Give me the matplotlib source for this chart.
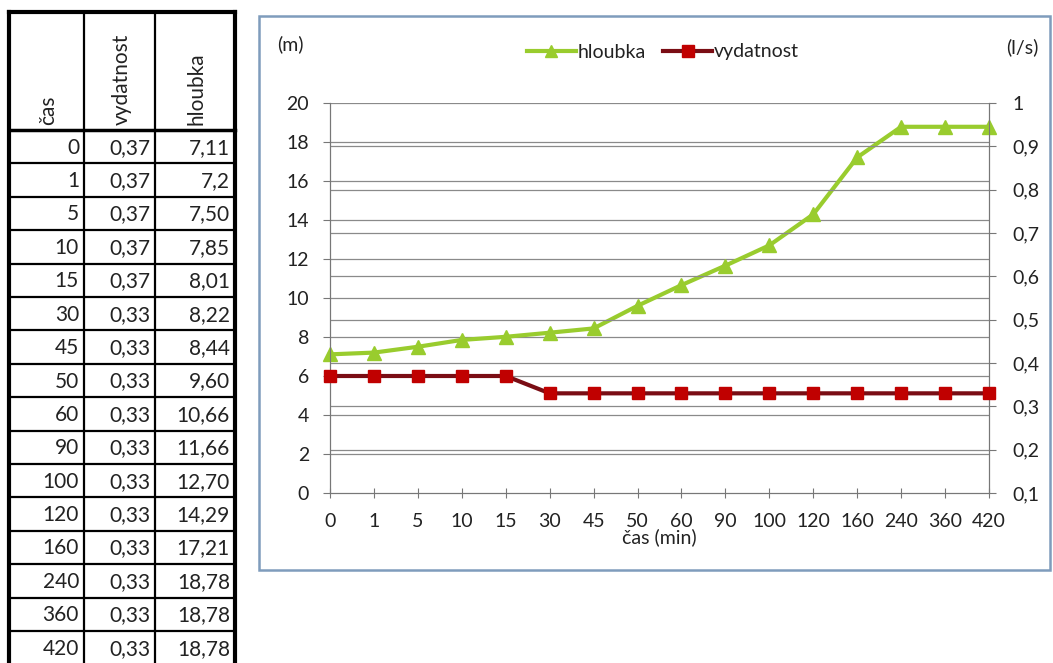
import numpy as np
import matplotlib
matplotlib.use("Agg")
import matplotlib.pyplot as plt
from matplotlib.patches import Rectangle
from matplotlib.lines import Line2D

plt.rcParams['font.family'] = ['Lato', 'DejaVu Sans']

# data (table as printed + chart)
cas = ["0", "1", "5", "10", "15", "30", "45", "50", "60", "90",
       "100", "120", "160", "240", "360", "420"]
vydatnost_txt = ["0,37", "0,37", "0,37", "0,37", "0,37", "0,33", "0,33", "0,33",
                 "0,33", "0,33", "0,33", "0,33", "0,33", "0,33", "0,33", "0,33"]
hloubka_txt = ["7,11", "7,2", "7,50", "7,85", "8,01", "8,22", "8,44", "9,60",
               "10,66", "11,66", "12,70", "14,29", "17,21", "18,78", "18,78", "18,78"]
vydatnost = [float(s.replace(",", ".")) for s in vydatnost_txt]
hloubka = [float(s.replace(",", ".")) for s in hloubka_txt]
left_ticks = list(range(0, 21, 2))
right_ticks = [0.1, 0.2, 0.3, 0.4, 0.5, 0.6, 0.7, 0.8, 0.9, 1.0]

W, H = 1053, 663
fig = plt.figure(figsize=(W / 100, H / 100), dpi=100)

# ---- table on the left, drawn in pixel coords ----
tab = fig.add_axes([0, 0, 1, 1])
tab.set_xlim(0, W)
tab.set_ylim(H, 0)
tab.axis("off")

col_x = [9, 84, 155, 235]
top, head_bot, row_h = 12, 130, 33.4
n = len(cas)
bottom = head_bot + n * row_h

for xx in col_x:
    lw = 3 if xx in (col_x[0], col_x[-1]) else 1.6
    tab.plot([xx, xx], [top, bottom], color="black", lw=lw)
tab.plot([col_x[0], col_x[-1]], [top, top], color="black", lw=3)
tab.plot([col_x[0], col_x[-1]], [head_bot, head_bot], color="black", lw=2.5)
for i in range(1, n + 1):
    y = head_bot + i * row_h
    tab.plot([col_x[0], col_x[-1]], [y, y], color="black", lw=1.6)

headers = ["čas", "vydatnost", "hloubka"]
for j, h in enumerate(headers):
    cx = (col_x[j] + col_x[j + 1]) / 2 + 2
    tab.text(cx, head_bot - 5, h, rotation=90, ha="center", va="bottom",
             fontsize=15, color="#222222")

for i in range(n):
    cy = head_bot + (i + 0.5) * row_h + 1
    for j, vals in enumerate([cas, vydatnost_txt, hloubka_txt]):
        tab.text(col_x[j + 1] - 5, cy, vals[i], ha="right", va="center",
                 fontsize=15, color="#222222")

# ---- chart box ----
fig.patches.append(Rectangle((259 / W, 1 - 570 / H), (1050 - 259) / W, (570 - 16) / H,
                             transform=fig.transFigure, fill=False,
                             edgecolor="#7f9cbc", lw=1.8))

ax = fig.add_axes([330 / W, 1 - 493 / H, (989 - 330) / W, (493 - 103) / H])
ax2 = ax.twinx()
x = np.arange(n)

grid_c = "#8a8a8a"
for t in left_ticks[1:]:
    ax.axhline(t, color=grid_c, lw=0.9, zorder=0)
for t in right_ticks[1:-1]:
    ax2.axhline(t, color=grid_c, lw=0.9, zorder=0)

green = "#99cc2e"
red = "#c00000"
ax.plot(x, hloubka, color=green, lw=3, marker="^", ms=10, mfc=green, mec=green,
        clip_on=False, zorder=3)
ax2.plot(x, vydatnost, color="#7a0d14", lw=3, marker="s", ms=9, mfc=red, mec=red,
         clip_on=False, zorder=3)

fs = 14
ax.set_xlim(0, n - 1)
ax.set_ylim(0, 20)
ax2.set_ylim(0.1, 1.0)
ax.set_xticks(x)
ax.set_xticklabels(cas, fontsize=fs, color="#222222")
ax.set_yticks(left_ticks)
ax.set_yticklabels([str(t) for t in left_ticks], fontsize=fs, color="#222222")
ax2.set_yticks(right_ticks)
ax2.set_yticklabels([("%g" % t).replace(".", ",") for t in right_ticks],
                    fontsize=fs, color="#222222")

for a in (ax, ax2):
    a.spines["top"].set_visible(False)
    for s in ("left", "right", "bottom"):
        a.spines[s].set_color("#777777")
ax.tick_params(axis="x", direction="inout", length=7, pad=11, color="#777777")
ax.tick_params(axis="y", direction="out", length=5, pad=10, color="#777777")
ax2.tick_params(axis="y", direction="out", length=5, pad=12, color="#777777")
ax.set_xlabel("čas (min)", fontsize=fs, labelpad=-1, color="#222222")

fig.text(277 / W, 1 - 44 / H, "(m)", fontsize=fs, va="center", ha="left", color="#222222")
fig.text(1006 / W, 1 - 47 / H, "(l/s)", fontsize=fs, va="center", ha="left", color="#222222")

handles = [Line2D([], [], color=green, lw=3, marker="^", ms=9, mfc=green, mec=green),
           Line2D([], [], color="#7a0d14", lw=3, marker="s", ms=9, mfc=red, mec=red)]
fig.legend(handles, ["hloubka", "vydatnost"], loc="center", ncol=2,
           bbox_to_anchor=(663 / W, 1 - 52 / H), frameon=False, fontsize=fs,
           handlelength=2.5, handletextpad=0.1, columnspacing=0.9,
           labelcolor="#222222")

fig.savefig("out.png", dpi=100)
